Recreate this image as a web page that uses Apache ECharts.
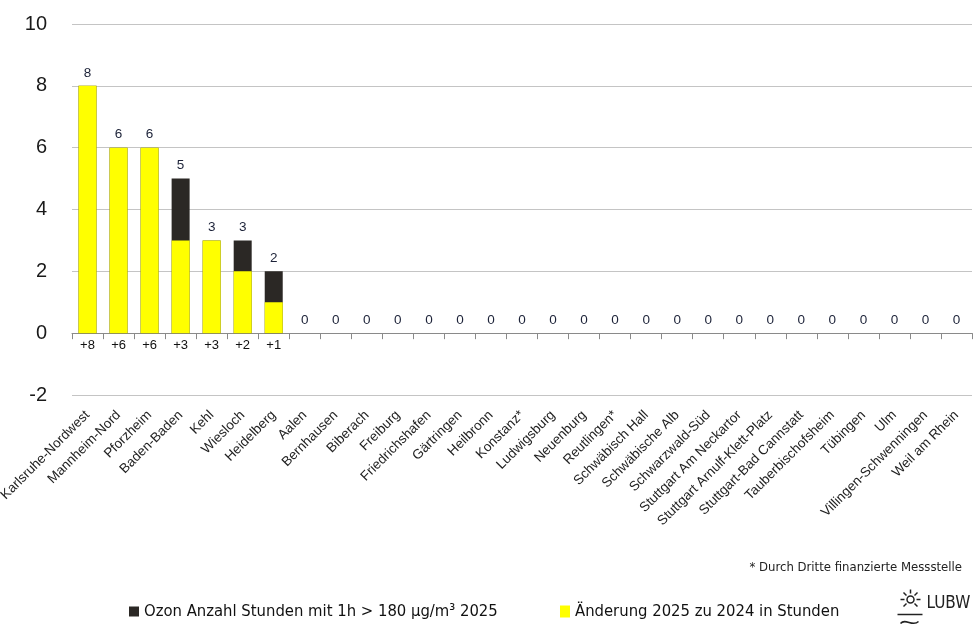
<!DOCTYPE html>
<html>
<head>
<meta charset="utf-8">
<script src="https://cdn.jsdelivr.net/npm/echarts@6/dist/echarts.min.js"></script>
<style>html,body{margin:0;padding:0;background:#fff}#c{width:975px;height:629px}</style>
</head>
<body>
<div id="c"></div>
<script>
const categories = ["Karlsruhe-Nordwest","Mannheim-Nord","Pforzheim","Baden-Baden","Kehl","Wiesloch","Heidelberg","Aalen","Bernhausen","Biberach","Freiburg","Friedrichshafen","Gärtringen","Heilbronn","Konstanz*","Ludwigsburg","Neuenburg","Reutlingen*","Schwäbisch Hall","Schwäbische Alb","Schwarzwald-Süd","Stuttgart Am Neckartor","Stuttgart Arnulf-Klett-Platz","Stuttgart-Bad Cannstatt","Tauberbischofsheim","Tübingen","Ulm","Villingen-Schwenningen","Weil am Rhein"];
const hours2025 = [8,6,6,5,3,3,2,0,0,0,0,0,0,0,0,0,0,0,0,0,0,0,0,0,0,0,0,0,0];
const change2025vs2024 = [8,6,6,3,3,2,1,0,0,0,0,0,0,0,0,0,0,0,0,0,0,0,0,0,0,0,0,0,0];
const yTicks = [-2,0,2,4,6,8,10];
const seriesNames = ["Ozon Anzahl Stunden mit 1h > 180 µg/m³ 2025","Änderung 2025 zu 2024 in Stunden"];
const footnote = "* Durch Dritte finanzierte Messstelle";

const chart = echarts.init(document.getElementById('c'), null, {renderer:'canvas'});
const narrow = '"Liberation Sans Narrow", "DejaVu Sans Condensed", sans-serif';
const sans = '"Liberation Sans", Arial, sans-serif';
chart.setOption({
  animation:false,
  grid:{left:72,right:3,top:24,bottom:234,containLabel:false,outerBoundsMode:'none'},
  legend:[
    {data:[seriesNames[0]],left:124,top:598,itemWidth:10,itemHeight:10,icon:'rect',itemGap:4,
     textStyle:{fontFamily:narrow,fontSize:16.5,color:'#111'}},
    {data:[seriesNames[1]],left:555,top:598,itemWidth:10,itemHeight:12,icon:'rect',itemGap:4,
     textStyle:{fontFamily:narrow,fontSize:16.5,color:'#111'}}
  ],
  xAxis:[
    {type:'category',data:categories,position:'bottom',
     axisLine:{onZero:true,lineStyle:{color:'#8a8a8a',width:1}},
     axisTick:{show:true,length:6,interval:0,lineStyle:{color:'#8a8a8a'}},
     axisLabel:{show:false},splitLine:{show:false}},
    {type:'category',data:categories,position:'bottom',
     axisLine:{show:false,onZero:false},axisTick:{show:false},
     axisLabel:{rotate:45,margin:18,fontSize:13.5,fontFamily:sans,color:'#222',interval:0}}
  ],
  yAxis:{type:'value',min:yTicks[0],max:yTicks[yTicks.length-1],interval:2,
    axisLine:{show:false},axisTick:{show:false},
    axisLabel:{fontSize:20,margin:25,color:'#1a1a1a',fontFamily:sans,formatter:v=>String(v)},
    splitLine:{lineStyle:{color:'#c4c4c4',width:1}}
  },
  series:[
    {name:seriesNames[0],type:'bar',xAxisIndex:0,data:hours2025,barWidth:18,barGap:'-100%',
     itemStyle:{color:'#2b2825'},
     label:{show:true,position:'top',distance:6,fontSize:13.5,color:'#1c2238',fontFamily:sans}},
    {name:seriesNames[1],type:'bar',xAxisIndex:0,data:change2025vs2024,barWidth:18,barGap:'-100%',
     itemStyle:{color:'#ffff00'},
     label:{show:true,position:'bottom',distance:6,fontSize:13,color:'#111',fontFamily:sans,
       formatter:p=>p.value>0?('+'+p.value):''}}
  ],
  graphic:[
    {type:'text',right:13,top:561,style:{text:footnote,fontFamily:narrow,fontSize:13,fill:'#222'}},
    {type:'group',left:895,top:587,children:[
      {type:'circle',shape:{cx:14,cy:10,r:3.5},style:{fill:'none',stroke:'#222',lineWidth:1.5}},
      {type:'line',shape:{x1:14,y1:0,x2:14,y2:4},style:{stroke:'#222',lineWidth:1.5}},
      {type:'line',shape:{x1:4,y1:10,x2:8,y2:10},style:{stroke:'#222',lineWidth:1.5}},
      {type:'line',shape:{x1:20,y1:10,x2:24,y2:10},style:{stroke:'#222',lineWidth:1.5}},
      {type:'line',shape:{x1:7,y1:3,x2:10,y2:6},style:{stroke:'#222',lineWidth:1.5}},
      {type:'line',shape:{x1:21,y1:3,x2:18,y2:6},style:{stroke:'#222',lineWidth:1.5}},
      {type:'line',shape:{x1:7,y1:17,x2:10,y2:14},style:{stroke:'#222',lineWidth:1.5}},
      {type:'line',shape:{x1:21,y1:17,x2:18,y2:14},style:{stroke:'#222',lineWidth:1.5}},
      {type:'line',shape:{x1:1,y1:25,x2:26,y2:25},style:{stroke:'#222',lineWidth:1.5}},
      {type:'bezierCurve',shape:{x1:4,y1:34,x2:22,y2:32,cpx1:9,cpy1:28,cpx2:16,cpy2:38},style:{stroke:'#222',lineWidth:1.5,fill:'none'}},
      {type:'text',x:30,y:6,style:{text:'LUBW',fontFamily:narrow,fontSize:17,fill:'#222'}}
    ]}
  ]
});
</script>
</body>
</html>
